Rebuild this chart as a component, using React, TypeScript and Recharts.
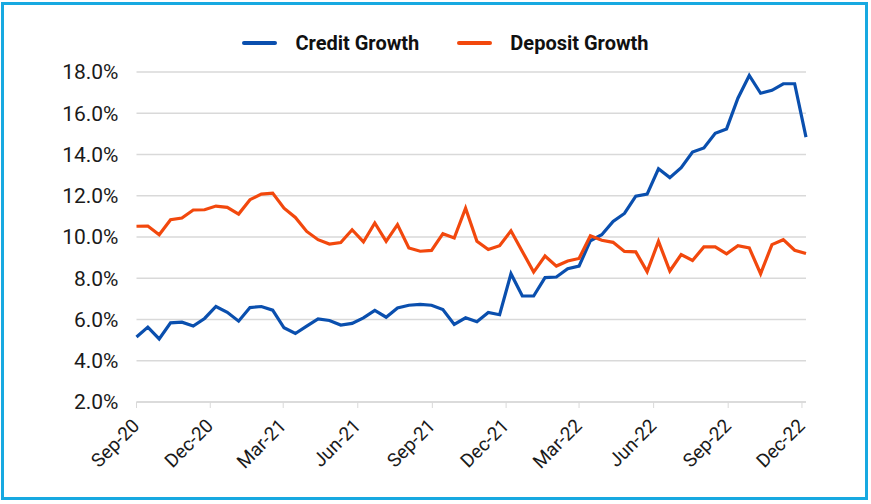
import { LineChart, Line, XAxis, YAxis, CartesianGrid } from 'recharts';

const DAY = 86400000;
const FIRST_REPORT = Date.UTC(2020, 8, 11);

// fortnightly y/y growth, %
const creditGrowth = [
  5.15, 5.63, 5.06, 5.84, 5.87, 5.68, 6.05, 6.63, 6.35, 5.92, 6.58, 6.63, 6.45, 5.6, 5.32,
  5.68, 6.03, 5.95, 5.73, 5.81, 6.08, 6.44, 6.11, 6.56, 6.69, 6.73, 6.69, 6.48, 5.76,
  6.08, 5.89, 6.34, 6.23, 8.22, 7.14, 7.14, 8.03, 8.06, 8.46, 8.59, 9.82, 10.11, 10.75, 11.14,
  11.98, 12.08, 13.31, 12.88, 13.36, 14.12, 14.32, 15.03, 15.24, 16.73, 17.83, 16.97, 17.11, 17.43, 17.43, 14.84,
];
const depositGrowth = [
  10.52, 10.53, 10.11, 10.84, 10.92, 11.31, 11.32, 11.5, 11.44, 11.11, 11.81, 12.08, 12.13, 11.4, 10.95,
  10.27, 9.87, 9.66, 9.73, 10.35, 9.76, 10.68, 9.79, 10.6, 9.47, 9.31, 9.35, 10.16, 9.95,
  11.4, 9.79, 9.39, 9.58, 10.3, 9.3, 8.3, 9.08, 8.59, 8.84, 8.96, 10.06, 9.84, 9.74, 9.3,
  9.28, 8.32, 9.79, 8.35, 9.15, 8.86, 9.52, 9.52, 9.18, 9.58, 9.47, 8.22, 9.63, 9.87, 9.36, 9.2,
];

const tickDates = [
  '2020-09-11', '2020-12-11', '2021-03-11', '2021-06-11', '2021-09-11',
  '2021-12-11', '2022-03-11', '2022-06-11', '2022-09-11', '2022-12-11',
];
const tickLabels = ['Sep-20', 'Dec-20', 'Mar-21', 'Jun-21', 'Sep-21', 'Dec-21', 'Mar-22', 'Jun-22', 'Sep-22', 'Dec-22'];
const yTicks = [2, 4, 6, 8, 10, 12, 14, 16, 18];

const BLUE = '#0a4fae';
const ORANGE = '#f2480d';
const FONT = 'Roboto, sans-serif';

const data = creditGrowth.map((credit, i) => ({
  date: FIRST_REPORT + i * 14 * DAY,
  credit,
  deposit: depositGrowth[i],
}));

const xTicks = tickDates.map(d => Date.parse(d + 'T00:00:00Z'));

const DateTick = ({ x, y, payload }: any) => {
  const idx = xTicks.indexOf(payload.value);
  const ax = x + 4;
  const ay = y + 17;
  return (
    <text
      x={ax}
      y={ay}
      transform={`rotate(-45, ${ax}, ${ay})`}
      textAnchor="end"
      fontFamily={FONT}
      fontSize={19}
      fill="#1a1a1a"
    >
      {tickLabels[idx]}
    </text>
  );
};

const LegendItem = ({ color, label }: { color: string; label: string }) => (
  <div style={{ display: 'flex', alignItems: 'center' }}>
    <div style={{ width: 35, height: 4, background: color, borderRadius: 2, marginRight: 18 }} />
    <span style={{ fontFamily: FONT, fontWeight: 700, fontSize: 20, color: '#111' }}>{label}</span>
  </div>
);

export default function App() {
  return (
    <div style={{ position: 'absolute', left: 0, top: 0, width: 871, height: 504, background: '#fff' }}>
      <div
        style={{
          position: 'absolute',
          left: 1,
          top: 2,
          width: 867,
          height: 498,
          border: '3px solid #17a9e1',
          boxSizing: 'border-box',
        }}
      />
      <div style={{ position: 'absolute', top: 31, left: 10, width: 871, display: 'flex', justifyContent: 'center', gap: 38 }}>
        <LegendItem color={BLUE} label="Credit Growth" />
        <LegendItem color={ORANGE} label="Deposit Growth" />
      </div>
      <div style={{ position: 'absolute', left: 0, top: 0 }}>
        <LineChart width={871} height={504} data={data} margin={{ top: 72, right: 65, bottom: 22, left: 0 }}>
          <CartesianGrid vertical={false} stroke="#d9d9d9" strokeWidth={1.5} />
          <XAxis
            dataKey="date"
            type="number"
            scale="time"
            domain={['dataMin', 'dataMax']}
            ticks={xTicks}
            interval={0}
            height={80}
            tick={<DateTick />}
            tickSize={6}
            tickMargin={2}
            stroke="#d9d9d9"
            axisLine={{ stroke: '#d9d9d9', strokeWidth: 1.5 }}
            tickLine={{ stroke: '#d9d9d9' }}
          />
          <YAxis
            type="number"
            domain={[2, 18]}
            ticks={yTicks}
            interval={0}
            width={136.5}
            axisLine={false}
            tickLine={false}
            tickSize={6}
            tickMargin={12}
            tickFormatter={(v: number) => `${v.toFixed(1)}%`}
            tick={{ fontFamily: FONT, fontSize: 21, fill: '#1a1a1a' }}
          />
          <Line
            type="linear"
            dataKey="credit"
            stroke={BLUE}
            strokeWidth={3.2}
            dot={false}
            isAnimationActive={false}
          />
          <Line
            type="linear"
            dataKey="deposit"
            stroke={ORANGE}
            strokeWidth={3.2}
            dot={false}
            isAnimationActive={false}
          />
        </LineChart>
      </div>
    </div>
  );
}
